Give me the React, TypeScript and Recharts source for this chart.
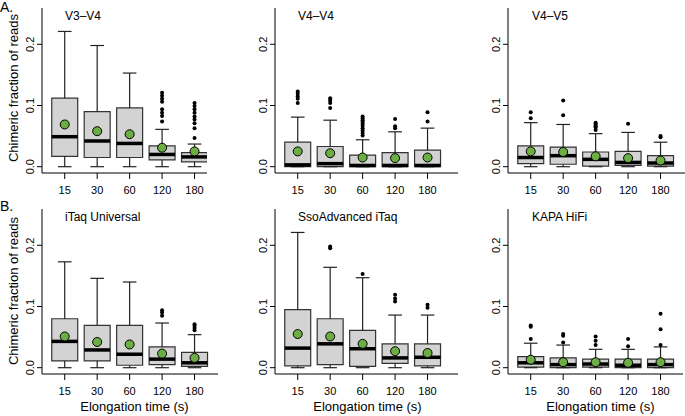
import { ComposedChart, XAxis, YAxis, Scatter, ReferenceArea, ReferenceLine } from "recharts";

// elongation times (categories on the x axis)
const times = ["15", "30", "60", "120", "180"];
const yTicks = [0, 0.1, 0.2];

// box stats per panel
const v3v4 = {
  hi: [0.221, 0.198, 0.153, 0.061, 0.037],
  q3: [0.112, 0.09, 0.096, 0.034, 0.023],
  med: [0.049, 0.042, 0.038, 0.02, 0.016],
  q1: [0.017, 0.015, 0.015, 0.011, 0.008],
  lo: [0, 0, 0, 0, 0],
  mean: [0.069, 0.058, 0.053, 0.031, 0.025],
  out: [[], [], [], [0.121, 0.116, 0.111, 0.106, 0.094, 0.088, 0.083, 0.074], [0.104, 0.099, 0.094, 0.088, 0.082, 0.077, 0.071, 0.063, 0.047]],
};

const v4v4 = {
  hi: [0.081, 0.076, 0.044, 0.057, 0.063],
  q3: [0.04, 0.033, 0.019, 0.023, 0.027],
  med: [0.003, 0.005, 0.002, 0.002, 0.002],
  q1: [0, 0, 0, 0, 0],
  lo: [0, 0, 0, 0, 0],
  mean: [0.025, 0.022, 0.015, 0.014, 0.015],
  out: [[0.123, 0.119, 0.115, 0.111, 0.104], [0.112, 0.108, 0.104, 0.096], [0.082, 0.079, 0.076, 0.073, 0.07, 0.067, 0.063, 0.059, 0.055, 0.051], [0.078, 0.066, 0.063], [0.089, 0.074]],
};

const v4v5 = {
  hi: [0.072, 0.069, 0.054, 0.056, 0.04],
  q3: [0.034, 0.032, 0.024, 0.025, 0.018],
  med: [0.015, 0.018, 0.012, 0.007, 0.006],
  q1: [0.005, 0.004, 0.001, 0.002, 0.001],
  lo: [0, 0, 0, 0, 0],
  mean: [0.025, 0.024, 0.017, 0.014, 0.01],
  out: [[0.089, 0.079], [0.108, 0.084], [0.072, 0.07, 0.068, 0.066, 0.064, 0.06], [0.07], [0.05, 0.048]],
};

const itaq = {
  hi: [0.173, 0.146, 0.14, 0.073, 0.054],
  q3: [0.08, 0.069, 0.069, 0.034, 0.025],
  med: [0.043, 0.029, 0.022, 0.014, 0.008],
  q1: [0.011, 0.011, 0.004, 0.005, 0.002],
  lo: [0, 0, 0, 0, 0],
  mean: [0.051, 0.042, 0.038, 0.023, 0.016],
  out: [[], [], [], [0.094, 0.09, 0.085], [0.071, 0.068, 0.065, 0.061]],
};

const sso = {
  hi: [0.221, 0.164, 0.147, 0.086, 0.086],
  q3: [0.095, 0.08, 0.061, 0.039, 0.039],
  med: [0.032, 0.039, 0.031, 0.016, 0.017],
  q1: [0.003, 0.005, 0.002, 0.007, 0.003],
  lo: [0, 0, 0, 0, 0],
  mean: [0.055, 0.051, 0.039, 0.027, 0.024],
  out: [[], [0.198, 0.195], [0.153], [0.119, 0.113, 0.108], [0.103, 0.098]],
};

const kapa = {
  hi: [0.04, 0.037, 0.03, 0.03, 0.034],
  q3: [0.018, 0.016, 0.014, 0.014, 0.014],
  med: [0.008, 0.005, 0.006, 0.004, 0.005],
  q1: [0.001, 0, 0.001, 0, 0],
  lo: [0, 0, 0, 0, 0],
  mean: [0.013, 0.009, 0.009, 0.008, 0.009],
  out: [[0.069, 0.067, 0.047], [0.055, 0.052, 0.041], [0.051, 0.044, 0.037], [0.047, 0.035], [0.088, 0.063, 0.037]],
};

const FONT = '"Liberation Sans", Arial, Helvetica, sans-serif';
const GREEN = "#6cad44";
const LINE = "#222";

// layout: chart left, chart top, clip width, clip height
const panels = [
  { title: "V3–V4", stats: v3v4, left: 0, top: 0, clipW: 207, clipH: 201, xTitle: false },
  { title: "V4–V4", stats: v4v4, left: 233, top: 0, clipW: 225, clipH: 201, xTitle: false },
  { title: "V4–V5", stats: v4v5, left: 466, top: 0, clipW: 227, clipH: 201, xTitle: false },
  { title: "iTaq Universal", stats: itaq, left: 0, top: 201, clipW: 218, clipH: 215, xTitle: true },
  { title: "SsoAdvanced iTaq", stats: sso, left: 233, top: 201, clipW: 225, clipH: 215, xTitle: true },
  { title: "KAPA HiFi", stats: kapa, left: 466, top: 201, clipW: 217, clipH: 215, xTitle: true },
];

const BOX = 0.4; // half box width, x units
const CAP = 0.21; // half whisker cap width

function YTick(props: any) {
  const { x, y, payload } = props;
  return (
    <text x={x} y={y} transform={`rotate(-90 ${x} ${y})`} textAnchor="middle" fontSize={11} fill="#000" fontFamily={FONT}>
      {Number(payload.value).toFixed(1)}
    </text>
  );
}

function Panel({ stats, xTitle }: any) {
  const rows = times.map((t, i) => ({ x: i + 1, mean: stats.mean[i] }));
  const outRows = stats.out.flatMap((vals: number[], i: number) => vals.map((y) => ({ x: i + 1, y })));
  return (
    <ComposedChart width={227} height={217} data={rows} margin={{ top: 8, right: 0, bottom: 0, left: 0 }}>
      <XAxis
        dataKey="x"
        type="number"
        domain={[0.3, 6]}
        allowDataOverflow
        ticks={[1, 2, 3, 4, 5]}
        interval={0}
        tickFormatter={(v) => times[v - 1]}
        tickSize={6}
        tickMargin={7}
        height={44}
        stroke="#000"
        tick={{ fill: "#000", fontSize: 11, fontFamily: FONT }}
        label={xTitle ? { value: "Elongation time (s)", position: "insideBottom", offset: 7, fill: "#000", fontSize: 13, fontFamily: FONT } : undefined}
      />
      <YAxis
        type="number"
        domain={[-0.0103, 0.2593]}
        allowDataOverflow
        ticks={yTicks}
        width={42}
        tickSize={5}
        tickMargin={3}
        stroke="#000"
        tick={(p: any) => <YTick {...p} />}
      />

      {/* boxes */}
      {times.map((t, i) => (
        <ReferenceArea
          key={"box" + t}
          x1={i + 1 - BOX}
          x2={i + 1 + BOX}
          y1={stats.q1[i]}
          y2={stats.q3[i]}
          fill="#d3d3d3"
          fillOpacity={1}
          stroke="#333"
          strokeWidth={1.2}
          ifOverflow="visible"
        />
      ))}

      {/* whiskers + caps */}
      {times.map((t, i) => (
        <ReferenceLine key={"wl" + t} segment={[{ x: i + 1, y: stats.lo[i] }, { x: i + 1, y: stats.q1[i] }]} stroke={LINE} strokeWidth={1.2} ifOverflow="visible" />
      ))}
      {times.map((t, i) => (
        <ReferenceLine key={"wh" + t} segment={[{ x: i + 1, y: stats.q3[i] }, { x: i + 1, y: stats.hi[i] }]} stroke={LINE} strokeWidth={1.2} ifOverflow="visible" />
      ))}
      {times.map((t, i) => (
        <ReferenceLine key={"cl" + t} segment={[{ x: i + 1 - CAP, y: stats.lo[i] }, { x: i + 1 + CAP, y: stats.lo[i] }]} stroke={LINE} strokeWidth={1.2} ifOverflow="visible" />
      ))}
      {times.map((t, i) => (
        <ReferenceLine key={"ch" + t} segment={[{ x: i + 1 - CAP, y: stats.hi[i] }, { x: i + 1 + CAP, y: stats.hi[i] }]} stroke={LINE} strokeWidth={1.2} ifOverflow="visible" />
      ))}

      {/* medians */}
      {times.map((t, i) => (
        <ReferenceLine key={"md" + t} segment={[{ x: i + 1 - BOX, y: stats.med[i] }, { x: i + 1 + BOX, y: stats.med[i] }]} stroke="#000" strokeWidth={3.5} ifOverflow="visible" />
      ))}

      {/* outliers */}
      <Scatter
        data={outRows}
        dataKey="y"
        isAnimationActive={false}
        shape={(p: any) => <circle cx={p.cx} cy={p.cy} r={2} fill="#000" />}
      />
      {/* means */}
      <Scatter
        dataKey="mean"
        isAnimationActive={false}
        shape={(p: any) => <circle cx={p.cx} cy={p.cy} r={4.5} fill={GREEN} stroke="#000" strokeWidth={1} />}
      />
    </ComposedChart>
  );
}

export default function App() {
  const titleX = [65, 298, 532];
  return (
    <div style={{ position: "absolute", left: 0, top: 0, width: 685, height: 416, background: "#fff", overflow: "hidden", fontFamily: FONT }}>
      {panels.map((p) => (
        <div key={p.title} style={{ position: "absolute", left: p.left, top: p.top, width: p.clipW, height: p.clipH, overflow: "hidden" }}>
          <Panel stats={p.stats} xTitle={p.xTitle} />
        </div>
      ))}
      <svg width={685} height={416} style={{ position: "absolute", left: 0, top: 0, pointerEvents: "none" }} fontFamily={FONT}>
        <text x={0} y={12} fontSize={14} fill="#000">A.</text>
        <text x={0} y={211} fontSize={14} fill="#000">B.</text>
        <text x={18} y={88} fontSize={13} fill="#000" textAnchor="middle" transform="rotate(-90 18 88)">Chimeric fraction of reads</text>
        <text x={18} y={291} fontSize={13} fill="#000" textAnchor="middle" transform="rotate(-90 18 291)">Chimeric fraction of reads</text>
        {panels.map((p, i) => (
          <text key={"t" + p.title} x={titleX[i % 3]} y={i < 3 ? 19.5 : 221} fontSize={12} fill="#000">
            {p.title}
          </text>
        ))}
      </svg>
    </div>
  );
}
